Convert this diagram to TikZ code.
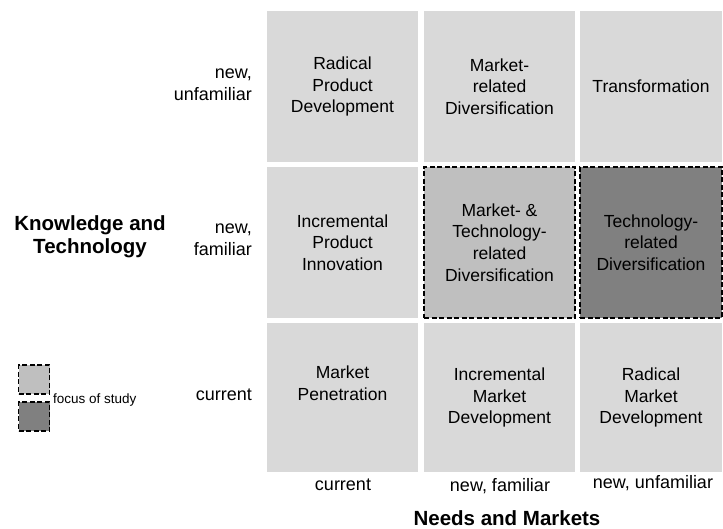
\documentclass[tikz,border=0pt]{standalone}
\usepackage{fontspec}
\setmainfont{Liberation Sans}
\usetikzlibrary{positioning}
\definecolor{celllight}{gray}{0.85}
\definecolor{cellmid}{gray}{0.75}
\definecolor{celldark}{gray}{0.5}

\begin{document}
\begin{tikzpicture}[x=1pt, y=-1pt,
    cell/.style={fill=celllight, minimum width=151pt, minimum height=151pt,
      inner sep=0pt, align=center, font=\fontsize{17.5}{21.7}\selectfont},
    narrow/.style={minimum width=142pt},
    focusbox/.style={draw=black, line width=1.6pt, dash pattern=on 5pt off 2.5pt},
    axislabel/.style={align=center, inner sep=0pt, font=\fontsize{18}{22}\selectfont},
    axistitle/.style={align=center, inner sep=0pt, font=\fontsize{20.5}{23}\selectfont\bfseries},
    legendbox/.style={focusbox, minimum width=31pt, minimum height=29pt, inner sep=0pt}]
  \useasboundingbox (0,0) rectangle (723,529);

  % knowledge and technology: new, unfamiliar
  \node[cell] (rpd) at (342.5,86.5) {Radical\\Product\\Development};
  \node[cell] (mrd) at (499.5,86.5) {Market-\\related\\Diversification};
  \node[cell, narrow] (tra) at (651,86.5) {Transformation};

  % new, familiar
  \node[cell] (ipi) at (342.5,242.5) {Incremental\\Product\\Innovation};
  \node[cell, focusbox, fill=cellmid] (mtd) at (499.5,242.5)
    {Market- \&\\Technology-\\related\\Diversification};
  \node[cell, narrow, focusbox, fill=celldark] (trd) at (651,242.5)
    {Technology-\\related\\Diversification};

  % current
  \node[cell, minimum height=149pt] (mpe) at (342.5,397.5) {Market\\Penetration\\\strut};
  \node[cell, minimum height=149pt] (imd) at (499.5,397.5) {Incremental\\Market\\Development};
  \node[cell, narrow, minimum height=149pt] (rmd) at (651,397.5) {Radical\\Market\\Development};

  % row labels
  \node[axislabel, align=right, anchor=east] (knu) at (252,85) {new,\\unfamiliar};
  \node[axislabel, align=right, anchor=east] (knf) at (252,240) {new,\\familiar};
  \node[axislabel, anchor=east] (kcu) at (252,395) {current};
  \node[axistitle] (kt) at (90,236.5) {Knowledge and\\Technology};

  % column labels
  \node[axislabel] (mcu) at (343,485) {current};
  \node[axislabel] (mnf) at (500,486) {new, familiar};
  \node[axislabel] (mnu) at (653,483) {new, unfamiliar};
  \node[axistitle, anchor=base] (nm) at (507,525) {Needs and Markets};

  % legend
  \node[legendbox, fill=cellmid] (lgm) at (34,379.5) {};
  \node[legendbox, fill=celldark] (lgd) at (34,416.5) {};
  \node[anchor=west, inner sep=0pt, font=\fontsize{13.5}{15}\selectfont] (lgt) at (53,400) {focus of study};
\end{tikzpicture}
\end{document}
